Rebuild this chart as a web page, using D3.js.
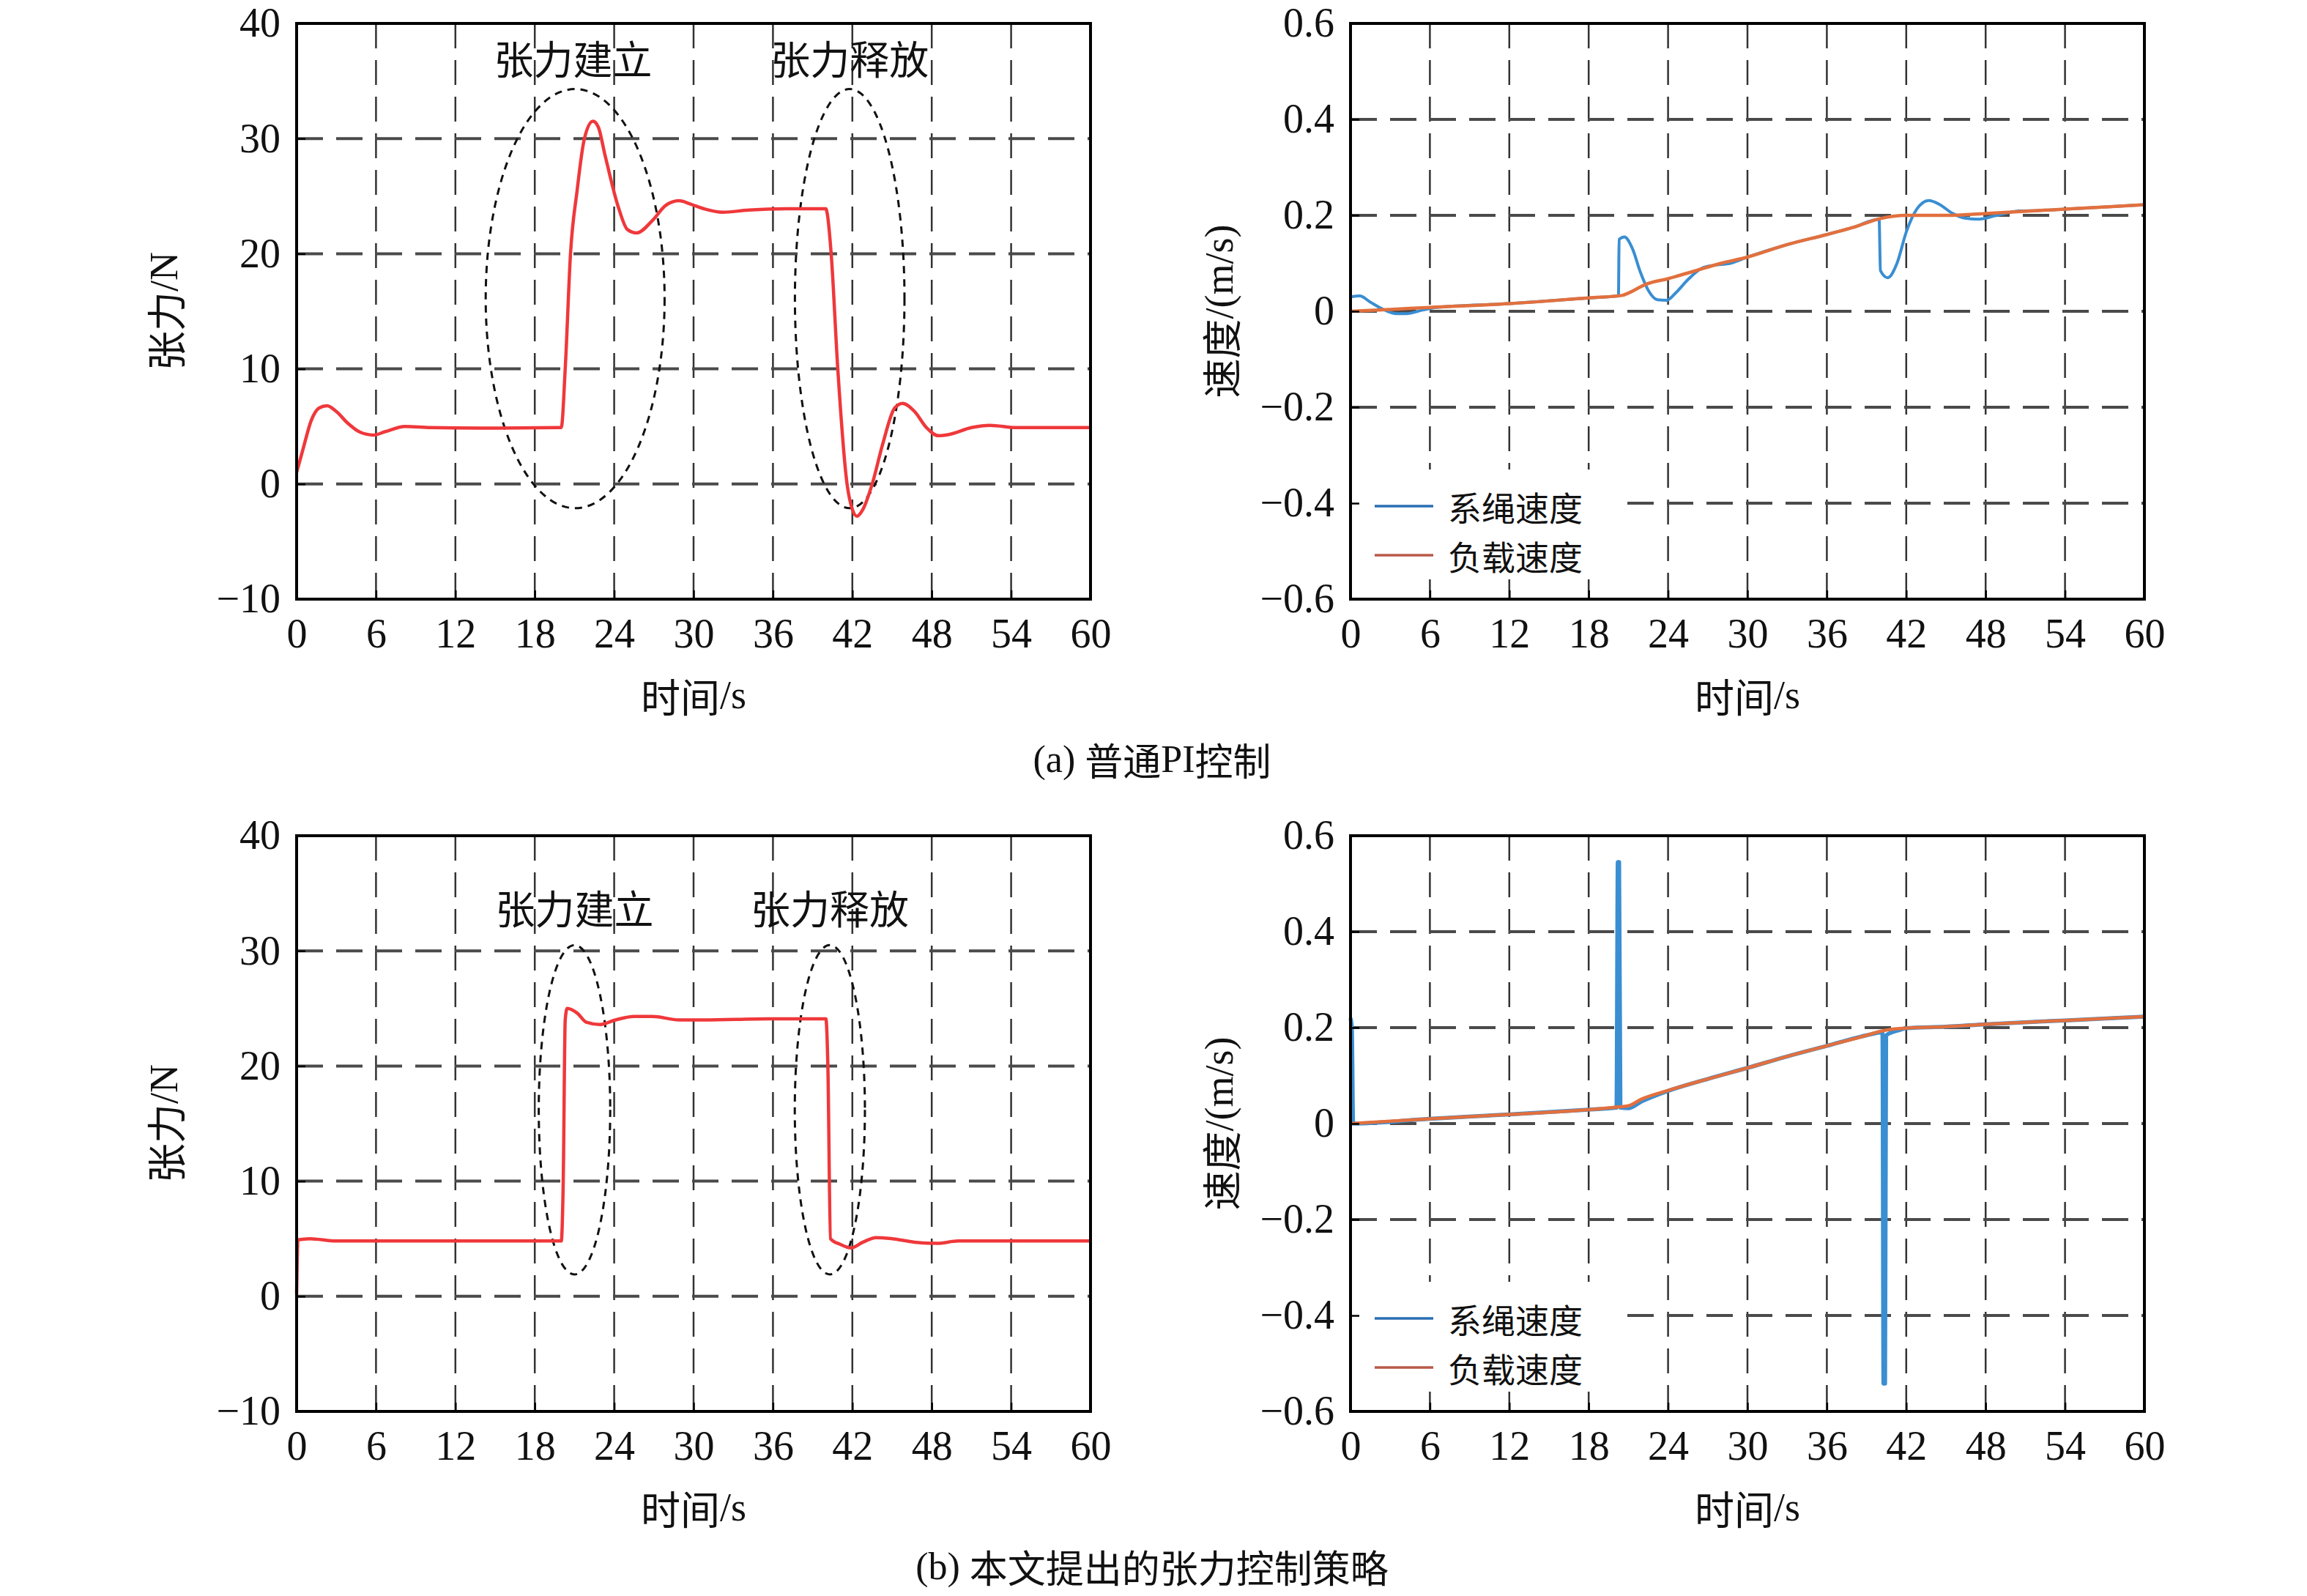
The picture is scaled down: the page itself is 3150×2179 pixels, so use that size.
<!DOCTYPE html>
<html>
<head>
<meta charset="utf-8">
<script src="https://cdn.jsdelivr.net/npm/d3@7"></script>
<style>
  body { margin: 0; background: #fff; }
  text { font-family: "Liberation Serif", "Times New Roman", "Noto Sans CJK SC", serif; fill: #111; }
</style>
</head>
<body>
<svg id="chart" width="3150" height="2179"></svg>
<script>
// axis ticks
const timeTicks = [0, 6, 12, 18, 24, 30, 36, 42, 48, 54, 60];
const tensionTicks = [-10, 0, 10, 20, 30, 40];
const speedTicks = [-0.6, -0.4, -0.2, 0, 0.2, 0.4, 0.6];

const legendLabels = ["系绳速度", "负载速度"];
const captions = ["(a) 普通PI控制", "(b) 本文提出的张力控制策略"];

// tension, ordinary PI control  [time s, tension N]
const tensionPI = [
  [0, 1.0], [0.5, 3.1], [1.1, 5.5], [1.7, 6.6], [2.3, 6.8], [3.0, 6.3], [3.85, 5.3],
  [4.8, 4.5], [5.8, 4.25], [6.7, 4.55], [8.2, 5.0], [10.1, 4.9], [14, 4.85], [20.0, 4.9],
  [20.3, 10], [20.7, 20], [21.2, 25.5], [21.75, 30], [22.4, 31.5], [22.8, 31.0], [23.3, 28.6],
  [24.3, 24.1], [25.0, 22.1], [25.7, 21.8], [26.9, 22.9], [27.9, 24.2], [28.9, 24.6],
  [29.8, 24.3], [30.8, 23.9], [32.2, 23.6], [34.2, 23.8], [37, 23.9], [40.0, 23.9],
  [40.1, 23.5], [40.4, 20], [40.9, 10], [41.6, 0], [42.0, -2.2], [42.35, -2.8], [42.8, -2.2],
  [43.5, 0], [44.3, 3.5], [45.2, 6.6], [45.8, 7.0], [46.7, 6.3], [47.6, 4.9], [48.5, 4.2],
  [49.3, 4.3], [51.0, 4.9], [52.4, 5.1], [54.4, 4.9], [57, 4.9], [60, 4.9]
];

// tension, proposed strategy
const tensionNew = [
  [0, 0.2], [0.1, 4.9], [1, 5.0], [3, 4.8], [6, 4.8], [12, 4.8], [20.0, 4.8],
  [20.15, 10], [20.3, 24], [20.45, 25.0], [21.2, 24.6], [21.9, 23.8], [22.9, 23.6],
  [24.1, 24.0], [25.5, 24.3], [26.9, 24.3], [28.9, 24.0], [30.8, 24.0], [35.6, 24.1],
  [40.0, 24.1], [40.15, 20], [40.35, 5.0], [41.1, 4.5], [41.9, 4.2], [42.8, 4.7],
  [43.8, 5.1], [45.0, 5.0], [46.7, 4.7], [48.4, 4.6], [50.0, 4.8], [54.9, 4.8], [60, 4.8]
];

// speeds, ordinary PI control  [time s, speed m/s]
const ropeSpeedPI = [
  [0, 0.03], [0.7, 0.032], [1.5, 0.019], [2.4, 0.005], [3.5, -0.005], [4.2, -0.005],
  [5.5, 0.003], [6.5, 0.008], [12, 0.016], [18, 0.028], [20.25, 0.032], [20.3, 0.15],
  [20.7, 0.155], [21.3, 0.131], [21.9, 0.082], [22.5, 0.044], [23.2, 0.024], [23.9, 0.023],
  [24.6, 0.039], [25.5, 0.066], [26.5, 0.089], [27.5, 0.096], [28.7, 0.1], [30, 0.113],
  [33, 0.139], [36, 0.16], [38, 0.175], [39.95, 0.192], [40.05, 0.085], [40.6, 0.07],
  [41.3, 0.1], [42.0, 0.165], [42.8, 0.213], [43.7, 0.231], [44.5, 0.223], [45.5, 0.204],
  [46.5, 0.194], [47.5, 0.192], [48.7, 0.199], [50.5, 0.209], [52, 0.21], [54, 0.213], [60, 0.222]
];
const loadSpeedPI = [
  [0, 0.0], [3, 0.004], [6, 0.008], [12, 0.016], [18, 0.028], [20.5, 0.033], [21, 0.038],
  [22.3, 0.056], [24, 0.068], [26, 0.084], [28, 0.1], [30, 0.113], [33, 0.139], [36, 0.16],
  [38, 0.175], [40, 0.193], [41, 0.198], [42, 0.2], [45, 0.2], [48, 0.204], [54, 0.213], [60, 0.222]
];

// speeds, proposed strategy
const ropeSpeedNew = [
  [0, 0.22], [0.1, 0.2], [0.2, 0.0], [6, 0.01], [12, 0.019], [18, 0.029], [20.1, 0.033],
  [20.2, 0.545], [20.3, 0.545], [20.4, 0.033], [21, 0.032], [22, 0.046], [24, 0.068],
  [27, 0.093], [30, 0.116], [33, 0.14], [36, 0.162], [39, 0.184], [40.2, 0.19],
  [40.28, -0.542], [40.4, -0.542], [40.48, 0.184], [41.5, 0.195], [42, 0.199], [45, 0.202],
  [48, 0.207], [54, 0.215], [60, 0.223]
];
const loadSpeedNew = [
  [0, 0.0], [6, 0.01], [12, 0.019], [18, 0.029], [20, 0.034], [21, 0.037], [22, 0.051],
  [24, 0.069], [27, 0.093], [30, 0.116], [33, 0.14], [36, 0.162], [39, 0.184], [40, 0.192],
  [41, 0.197], [42, 0.199], [45, 0.202], [48, 0.207], [54, 0.215], [60, 0.223]
];

// annotations in data units
const notesPI = [{ text: "张力建立", t: 20.9, v: 37.1 }, { text: "张力释放", t: 41.8, v: 37.1 }];
const notesNew = [{ text: "张力建立", t: 21.0, v: 33.8 }, { text: "张力释放", t: 40.3, v: 33.8 }];
const ringsPI = [{ t: 21.05, v: 16.1, rt: 6.76, rv: 18.2 }, { t: 41.8, v: 16.1, rt: 4.14, rv: 18.2 }];
const ringsNew = [{ t: 21.0, v: 16.2, rt: 2.7, rv: 14.3 }, { t: 40.3, v: 16.2, rt: 2.65, rv: 14.3 }];

const svg = d3.select("#chart");
svg.append("rect").attr("width", 3150).attr("height", 2179).attr("fill", "#fff");

const W = 1084, H = 786;
const blue = "#3a8ed2", orange = "#e2703e";

// split mixed text so Latin parts stay in the serif face
const cjk = /[\u3000-\u9fff\uff00-\uffef]/;
function richText(sel, str) {
  str.match(/[\u3000-\u9fff\uff00-\uffef]+|[^\u3000-\u9fff\uff00-\uffef]+/g).forEach(r => {
    sel.append("tspan")
      .attr("font-family", cjk.test(r) ? "Noto Sans CJK SC" : "Liberation Serif")
      .text(r);
  });
}

function panel(o) {
  const g = svg.append("g").attr("transform", `translate(${o.left},${o.top})`);
  const x = d3.scaleLinear().domain([0, 60]).range([0, W]);
  const y = d3.scaleLinear().domain(d3.extent(o.yTicks)).range([H, 0]);

  // grid
  g.selectAll(".vg").data(timeTicks.slice(1, -1)).join("line")
    .attr("x1", d => x(d)).attr("x2", d => x(d))
    .attr("y1", 0).attr("y2", H)
    .attr("stroke", "#333").attr("stroke-width", 2.5)
    .attr("stroke-dasharray", "34,16");
  g.selectAll(".hg").data(o.yTicks.slice(1, -1)).join("line")
    .attr("x1", 0).attr("x2", W)
    .attr("y1", d => y(d)).attr("y2", d => y(d))
    .attr("stroke", "#4a4a4a").attr("stroke-width", 4)
    .attr("stroke-dasharray", "36,18");

  // legend box hides grid
  if (o.legend) {
    g.append("rect").attr("x", 2).attr("y", 609).attr("width", 368).attr("height", 150)
      .attr("fill", "#fff");
  }

  // dashed ellipses
  if (o.rings) {
    g.selectAll(".ring").data(o.rings).join("ellipse")
      .attr("cx", d => x(d.t)).attr("cy", d => y(d.v))
      .attr("rx", d => x(d.rt) - x(0)).attr("ry", d => y(0) - y(d.rv))
      .attr("fill", "none").attr("stroke", "#111").attr("stroke-width", 3)
      .attr("stroke-dasharray", "10,8");
  }

  const line = d3.line().x(d => x(d[0])).y(d => y(d[1])).curve(d3.curveMonotoneX);
  o.series.forEach(s => {
    g.append("path").datum(s.data)
      .attr("fill", "none").attr("stroke", s.color)
      .attr("stroke-width", s.width).attr("stroke-linejoin", "round")
      .attr("d", line);
  });

  if (o.notes) {
    g.selectAll(".note").data(o.notes).join("text")
      .attr("x", d => x(d.t)).attr("y", d => y(d.v))
      .attr("text-anchor", "middle").attr("dominant-baseline", "central")
      .attr("font-size", 54)
      .each(function (d) { richText(d3.select(this), d.text); });
  }

  // axes with inward ticks
  const ax = g.append("g").attr("transform", `translate(0,${H})`)
    .call(d3.axisBottom(x).tickValues(timeTicks).tickSize(-12).tickPadding(26).tickFormat(d3.format("d")));
  const ay = g.append("g")
    .call(d3.axisLeft(y).tickValues(o.yTicks).tickSize(-12).tickPadding(22).tickFormat(o.fmt));
  [ax, ay].forEach(a => {
    a.select(".domain").remove();
    a.selectAll("line").attr("stroke", "#000").attr("stroke-width", 2.5);
    a.selectAll("text").attr("font-size", 56)
      .attr("font-family", "Liberation Serif, Times New Roman, serif").attr("fill", "#111");
  });

  g.append("rect").attr("width", W).attr("height", H)
    .attr("fill", "none").attr("stroke", "#000").attr("stroke-width", 4);

  g.append("text").attr("x", W / 2).attr("y", 917)
    .attr("text-anchor", "middle").attr("dominant-baseline", "central")
    .attr("font-size", 54).call(t => richText(t, "时间/s"));
  g.append("text")
    .attr("transform", `translate(${o.yTitleX},${H / 2}) rotate(-90)`)
    .attr("text-anchor", "middle").attr("dominant-baseline", "central")
    .attr("font-size", 54).call(t => richText(t, o.yTitle));

  if (o.legend) {
    const lineColors = ["#2a6fb2", "#b85a48"];
    legendLabels.forEach((lab, i) => {
      const yy = 659 + i * 67;
      g.append("line").attr("x1", 33).attr("x2", 113).attr("y1", yy).attr("y2", yy)
        .attr("stroke", lineColors[i]).attr("stroke-width", 3.5);
      g.append("text").attr("x", 133).attr("y", yy)
        .attr("dominant-baseline", "central").attr("font-size", 46)
        .call(t => richText(t, lab));
    });
  }
}

const fmtTension = d3.format("d");
const fmtSpeed = d => d === 0 ? "0" : d3.format(".1f")(d);

panel({ left: 405, top: 32, yTicks: tensionTicks, fmt: fmtTension, yTitle: "张力/N", yTitleX: -181,
  series: [{ data: tensionPI, color: "#ef383b", width: 4.5 }],
  rings: ringsPI, notes: notesPI });
panel({ left: 1844, top: 32, yTicks: speedTicks, fmt: fmtSpeed, yTitle: "速度/(m/s)", yTitleX: -179,
  series: [{ data: ropeSpeedPI, color: blue, width: 4 }, { data: loadSpeedPI, color: orange, width: 4.5 }],
  legend: true });
panel({ left: 405, top: 1141, yTicks: tensionTicks, fmt: fmtTension, yTitle: "张力/N", yTitleX: -181,
  series: [{ data: tensionNew, color: "#ef383b", width: 4.5 }],
  rings: ringsNew, notes: notesNew });
panel({ left: 1844, top: 1141, yTicks: speedTicks, fmt: fmtSpeed, yTitle: "速度/(m/s)", yTitleX: -179,
  series: [{ data: ropeSpeedNew, color: blue, width: 5.5 }, { data: loadSpeedNew, color: orange, width: 4.5 }],
  legend: true });

svg.selectAll(".caption").data(captions).join("text")
  .attr("x", 1573).attr("y", (d, i) => i === 0 ? 1036 : 2138)
  .attr("text-anchor", "middle").attr("dominant-baseline", "central")
  .attr("font-size", 52)
  .each(function (d) { richText(d3.select(this), d); });
</script>
</body>
</html>
